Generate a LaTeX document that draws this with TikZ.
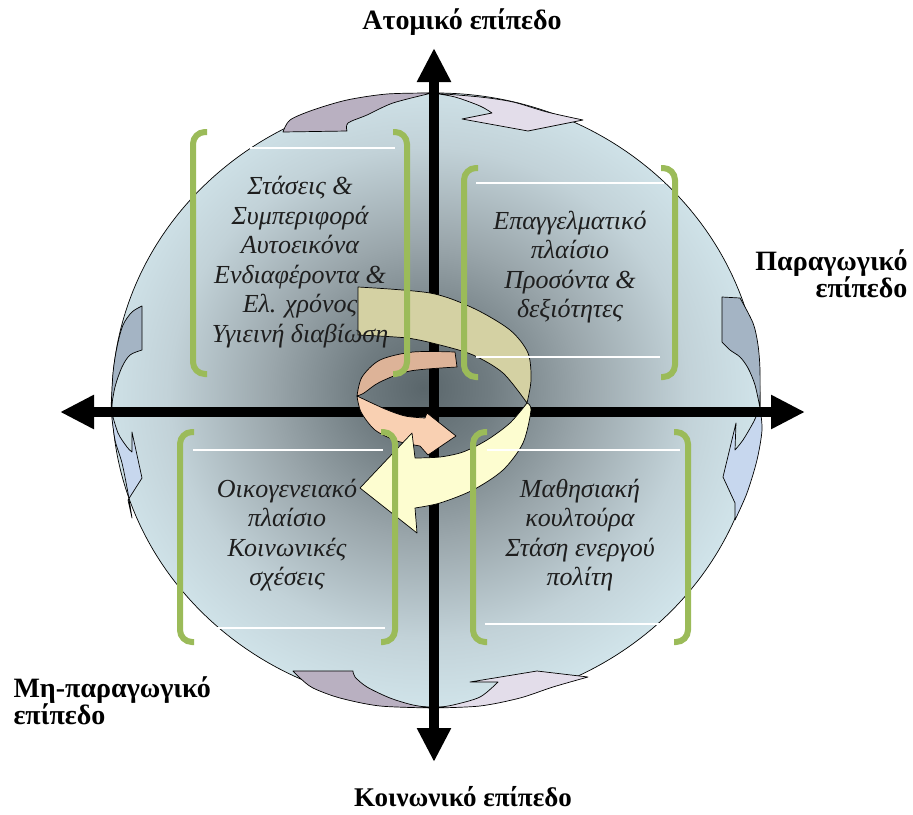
\documentclass[tikz,border=0pt]{standalone}
\usepackage{fontspec}
\setmainfont{Liberation Serif}
\usetikzlibrary{arrows.meta}
\definecolor{grn}{HTML}{9BBB59}
\definecolor{khaki}{HTML}{D4D1A3}
\definecolor{lemon}{HTML}{FDFDD0}
\definecolor{salmonback}{HTML}{DDB398}
\definecolor{salmonfront}{HTML}{F9D0B2}
\definecolor{mauve}{HTML}{B9B0C1}
\definecolor{lavender}{HTML}{E3DDEA}
\definecolor{slate}{HTML}{A4B4C4}
\definecolor{paleblue}{HTML}{C7D7EE}
\definecolor{inkgray}{HTML}{1E1E1E}
\definecolor{core}{HTML}{5A666B}
\definecolor{darkgray2}{HTML}{707C81}
\definecolor{midgray}{HTML}{9AA6AB}
\definecolor{mist}{HTML}{C2D2D8}
\definecolor{skin}{HTML}{D4E8EE}
\definecolor{rim}{HTML}{D7EBF1}
\pgfdeclareradialshading{globeshade}{\pgfpoint{-1bp}{1bp}}{%
  color(0bp)=(core); color(5bp)=(darkgray2); color(12bp)=(midgray);
  color(20bp)=(mist); color(27bp)=(skin); color(50bp)=(rim)}
\begin{document}
\begin{tikzpicture}[x=1pt,y=-1pt,
  band/.style={draw=black, line width=0.7pt, line join=round},
  bracket/.style={draw=grn, line width=6pt, rounded corners=12pt},
  gapline/.style={draw=white, line width=2.2pt},
  axisline/.style={line width=10pt, -{Triangle[length=34pt,width=32pt]}},
  boxtext/.style={font=\itshape\fontsize{26}{29.5}\selectfont, text=inkgray, align=center},
  leveltext/.style={font=\bfseries\fontsize{28}{27}\selectfont, text=black}]
\useasboundingbox (0,0) rectangle (913,814);

% globe
\shade[shading=globeshade] (436,400) ellipse [x radius=324, y radius=307];
\draw[line width=0.7pt] (436,400) ellipse [x radius=324, y radius=307];

% circulating arrows round the rim: top
\filldraw[band, fill=mauve]
  plot[smooth] coordinates {(283,132) (290,120) (313,110) (347,100) (387,94) (432,93)}
  -- plot[smooth] coordinates {(432,93) (393,103) (367,115) (348,123) (347,131)} -- cycle;
\filldraw[band, fill=lavender]
  plot[smooth] coordinates {(432,93) (480,97) (513,102) (547,112) (583,120)}
  -- (528,131) -- (462,119) -- (492,113)
  -- plot[smooth] coordinates {(492,113) (480,106) (455,97) (432,93)} -- cycle;
% bottom
\filldraw[band, fill=mauve]
  plot[smooth] coordinates {(293,671) (300,678) (313,688) (340,698) (380,706) (434,708)}
  -- plot[smooth] coordinates {(434,708) (413,705) (390,698) (367,687) (355,677) (353,671)} -- cycle;
\filldraw[band, fill=lavender]
  plot[smooth] coordinates {(434,708) (480,706) (520,698) (553,687) (588,677)}
  -- (537,671) -- (470,682) -- (498,682)
  -- plot[smooth] coordinates {(498,682) (480,697) (453,705) (434,708)} -- cycle;
% left
\filldraw[band, fill=slate]
  plot[smooth] coordinates {(142,306) (132,312) (123,325) (117,347) (113,373) (111,410)}
  -- plot[smooth] coordinates {(111,410) (115,387) (122,367) (130,355) (142,350)} -- cycle;
\filldraw[band, fill=paleblue]
  plot[smooth] coordinates {(111,410) (115,440) (122,463) (128,493) (132,518)}
  -- (128,500) -- (142,478) -- (132,432) -- (132,452)
  -- plot[smooth] coordinates {(132,452) (127,447) (118,433) (111,410)} -- cycle;
% right
\filldraw[band, fill=slate]
  (722,297) -- (740,298)
  -- plot[smooth] coordinates {(740,298) (753,323) (758,345) (760,370) (760,408)}
  -- plot[smooth] coordinates {(760,408) (755,385) (748,368) (740,357) (730,350) (722,342)} -- cycle;
\filldraw[band, fill=paleblue]
  plot[smooth] coordinates {(760,408) (762,430) (757,460) (747,493) (735,520)}
  -- (735,503) -- (723,477) -- (736,423) -- (735,450)
  -- plot[smooth] coordinates {(735,450) (743,440) (753,423) (760,408)} -- cycle;

% axes
\coordinate (north) at (434,48);
\coordinate (south) at (434,762);
\coordinate (west) at (60,412);
\coordinate (east) at (805,412);
\coordinate (hub) at (434,412);
\draw[axisline] (hub) -- (north);
\draw[axisline] (hub) -- (south);
\draw[axisline] (hub) -- (west);
\draw[axisline] (hub) -- (east);

% central spiral
\filldraw[band, fill=salmonback]
  plot[smooth] coordinates {(455,352) (413,352) (380,360) (362,377) (357,396)}
  -- plot[smooth] coordinates {(357,396) (364,393) (380,382) (410,371) (457,367)} -- cycle;
\filldraw[band, fill=khaki]
  (358,335) -- (358,287)
  -- plot[smooth] coordinates {(358,287) (430,293) (473,308) (510,330) (528,353) (531,380) (527,403)}
  -- plot[smooth] coordinates {(527,403) (503,373) (473,355) (440,345) (407,338) (358,335)} -- cycle;
\filldraw[band, fill=salmonfront]
  plot[smooth] coordinates {(357,396) (361,412) (375,430) (397,441) (420,446)}
  -- (428,455) -- (456,436) -- (427,413) -- (425,418)
  -- plot[smooth] coordinates {(425,418) (405,416) (385,409) (357,396)} -- cycle;
\filldraw[band, fill=lemon]
  plot[smooth] coordinates {(527,403) (510,423) (487,440) (463,452) (440,457) (415,458)}
  -- (412,433) -- (360,488) -- (417,533) -- (415,508)
  -- plot[smooth] coordinates {(415,508) (440,503) (473,490) (503,470) (523,443) (531,410) (527,403)} -- cycle;

% white rules of the four panels
\draw[gapline] (250,148) -- (395,148);
\draw[gapline] (476,183) -- (664,183);
\draw[gapline] (476,357) -- (660,357);
\draw[gapline] (193,450) -- (383,450);
\draw[gapline] (191,628) -- (385,628);
\draw[gapline] (487,450) -- (680,450);
\draw[gapline] (485,624) -- (660,624);

% green brackets
\draw[bracket] (207,132) -- (193,132) -- (193,374) -- (207,374);
\draw[bracket] (393,132) -- (407,132) -- (407,374) -- (393,374);
\draw[bracket] (478,168) -- (464,168) -- (464,377) -- (478,377);
\draw[bracket] (661,168) -- (675,168) -- (675,377) -- (661,377);
\draw[bracket] (194,432) -- (180,432) -- (180,642) -- (194,642);
\draw[bracket] (381,432) -- (395,432) -- (395,642) -- (381,642);
\draw[bracket] (487,432) -- (473,432) -- (473,642) -- (487,642);
\draw[bracket] (674,432) -- (688,432) -- (688,642) -- (674,642);

% panel texts
\node[boxtext] (personal) at (300,262) {Στάσεις \&\\Συμπεριφορά\\Αυτοεικόνα\\Ενδιαφέροντα \&\\Ελ. χρόνος\\Υγιεινή διαβίωση};
\node[boxtext] (work) at (570,267) {Επαγγελματικό\\πλαίσιο\\Προσόντα \&\\δεξιότητες};
\node[boxtext] (family) at (287,535) {Οικογενειακό\\πλαίσιο\\Κοινωνικές\\σχέσεις};
\node[boxtext] (learning) at (580,535) {Μαθησιακή\\κουλτούρα\\Στάση ενεργού\\πολίτη};

% level labels
\node[leveltext] (atomic) at (462,22) {Ατομικό επίπεδο};
\node[leveltext, font=\bfseries\fontsize{27}{27}\selectfont] (social) at (463,797) {Κοινωνικό επίπεδο};
\node[leveltext, align=right, anchor=east] (productive) at (911,274) {Παραγωγικό\\επίπεδο};
\node[leveltext, align=left, anchor=west] (nonproductive) at (10,701) {Μη-παραγωγικό\\επίπεδο};
\end{tikzpicture}
\end{document}
